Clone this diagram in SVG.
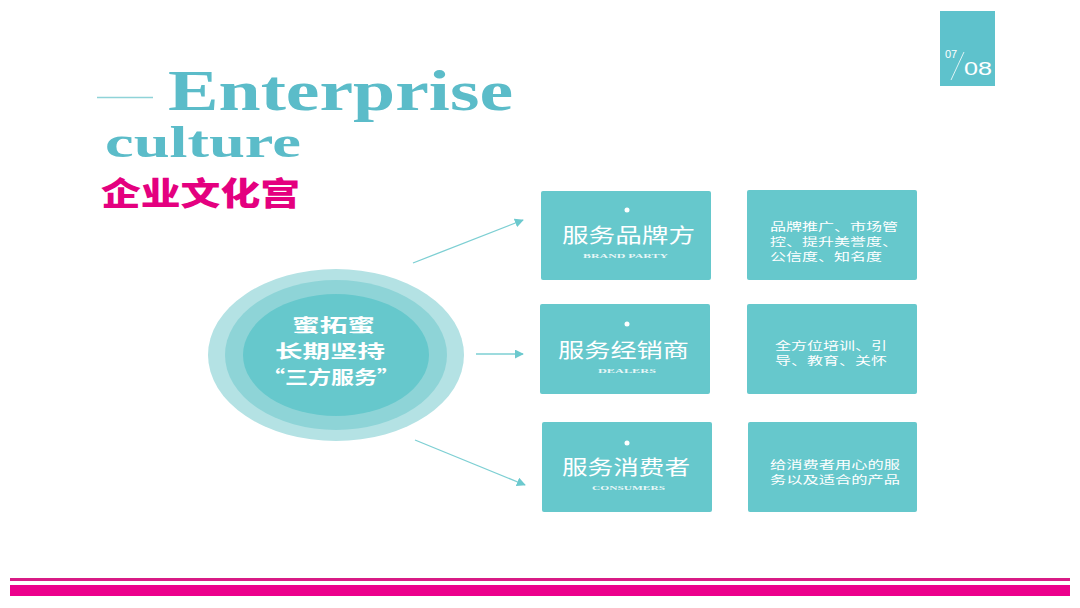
<svg xmlns="http://www.w3.org/2000/svg" width="1080" height="608" viewBox="0 0 1080 608">
<defs>
<style>
.box{fill:#66c8cc;}
.cjk{font-family:"Noto Sans CJK SC","Noto Sans",sans-serif;fill:#ffffff;}
.ttl{font-size:20px;}
.sub{font-family:"Liberation Serif",serif;font-weight:bold;font-size:7px;fill:#ffffff;fill-opacity:0.85;}
.desc{font-size:11px;}
.conn{stroke:#7dcfd3;stroke-width:1.3;fill:none;marker-end:url(#arr);}
</style>
<marker id="arr" viewBox="0 0 10 10" refX="9" refY="5" markerWidth="9" markerHeight="9" markerUnits="userSpaceOnUse" orient="auto">
<path d="M0,0 L10,5 L0,10 z" fill="#6cc9ce"/>
</marker>
</defs>
<rect width="1080" height="608" fill="#ffffff"/>

<g id="page-number">
<rect x="940" y="11" width="55" height="75" fill="#5ec2cc"/>
<text x="945" y="58" font-family="Liberation Sans,sans-serif" font-size="11" fill="#ffffff">07</text>
<line x1="951" y1="80" x2="964" y2="52" stroke="#ffffff" stroke-width="0.8"/>
<text x="964" y="75" font-family="Liberation Sans,sans-serif" font-size="18" fill="#ffffff" textLength="28" lengthAdjust="spacingAndGlyphs">08</text>
</g>

<g id="title">
<line x1="97" y1="97.5" x2="153" y2="97.5" stroke="#8fd3d8" stroke-width="1.5"/>
<text x="168" y="110" font-family="Liberation Serif,serif" font-weight="bold" font-size="56" fill="#5bbcc9" textLength="345" lengthAdjust="spacingAndGlyphs">Enterprise</text>
<text x="105" y="157" font-family="Liberation Serif,serif" font-weight="bold" font-size="44" fill="#5bbcc9" textLength="196" lengthAdjust="spacingAndGlyphs">culture</text>
<text x="101" y="205" font-family="Noto Sans CJK SC,sans-serif" font-weight="900" font-size="32" fill="#e4007f" textLength="199" lengthAdjust="spacingAndGlyphs">企业文化宫</text>
</g>

<g id="center-circle">
<ellipse cx="336" cy="355" rx="128" ry="86" fill="#b4e2e4"/>
<ellipse cx="336" cy="355" rx="111" ry="75" fill="#8ed4d7"/>
<ellipse cx="336" cy="355" rx="93" ry="61" fill="#66c8cc"/>
<text class="cjk" x="292" y="332" font-size="18" font-weight="bold" textLength="83" lengthAdjust="spacingAndGlyphs">蜜拓蜜</text>
<text class="cjk" x="275" y="358" font-size="18" font-weight="bold" textLength="110" lengthAdjust="spacingAndGlyphs">长期坚持</text>
<text class="cjk" x="262" y="384" font-size="18" font-weight="bold" textLength="138" lengthAdjust="spacingAndGlyphs">“三方服务”</text>
</g>

<g id="connectors">
<line class="conn" x1="413" y1="263" x2="523" y2="220"/>
<line class="conn" x1="476" y1="354" x2="523" y2="354"/>
<line class="conn" x1="415" y1="440" x2="525" y2="485"/>
</g>

<g id="brand-party">
<rect class="box" x="541" y="191" width="170" height="89" rx="2"/>
<circle cx="627" cy="210" r="2.5" fill="#ffffff"/>
<text class="cjk ttl" x="562" y="243" textLength="133" lengthAdjust="spacingAndGlyphs">服务品牌方</text>
<text class="sub" x="583" y="258" textLength="85" lengthAdjust="spacingAndGlyphs">BRAND PARTY</text>
</g>
<g id="brand-party-desc">
<rect class="box" x="747" y="190" width="170" height="90" rx="2"/>
<text class="cjk desc" x="770" y="231" textLength="128" lengthAdjust="spacingAndGlyphs">品牌推广、市场管</text>
<text class="cjk desc" x="770" y="246" textLength="128" lengthAdjust="spacingAndGlyphs">控、提升美誉度、</text>
<text class="cjk desc" x="770" y="261" textLength="112" lengthAdjust="spacingAndGlyphs">公信度、知名度</text>
</g>

<g id="dealers">
<rect class="box" x="540" y="304" width="170" height="90" rx="2"/>
<circle cx="627" cy="324" r="2.5" fill="#ffffff"/>
<text class="cjk ttl" x="558" y="358" textLength="131" lengthAdjust="spacingAndGlyphs">服务经销商</text>
<text class="sub" x="598" y="373" textLength="58" lengthAdjust="spacingAndGlyphs">DEALERS</text>
</g>
<g id="dealers-desc">
<rect class="box" x="747" y="304" width="170" height="90" rx="2"/>
<text class="cjk desc" x="775" y="350" textLength="112" lengthAdjust="spacingAndGlyphs">全方位培训、引</text>
<text class="cjk desc" x="775" y="365" textLength="112" lengthAdjust="spacingAndGlyphs">导、教育、关怀</text>
</g>

<g id="consumers">
<rect class="box" x="542" y="422" width="170" height="90" rx="2"/>
<circle cx="627" cy="443" r="2.5" fill="#ffffff"/>
<text class="cjk ttl" x="562" y="475" textLength="128" lengthAdjust="spacingAndGlyphs">服务消费者</text>
<text class="sub" x="592" y="490" textLength="73" lengthAdjust="spacingAndGlyphs">CONSUMERS</text>
</g>
<g id="consumers-desc">
<rect class="box" x="748" y="422" width="169" height="90" rx="2"/>
<text class="cjk desc" x="770" y="469" textLength="130" lengthAdjust="spacingAndGlyphs">给消费者用心的服</text>
<text class="cjk desc" x="770" y="484" textLength="130" lengthAdjust="spacingAndGlyphs">务以及适合的产品</text>
</g>

<g id="footer">
<rect x="10" y="578" width="1060" height="3" fill="#d81b85"/>
<rect x="10" y="585" width="1060" height="11" fill="#ec008c"/>
</g>
</svg>
